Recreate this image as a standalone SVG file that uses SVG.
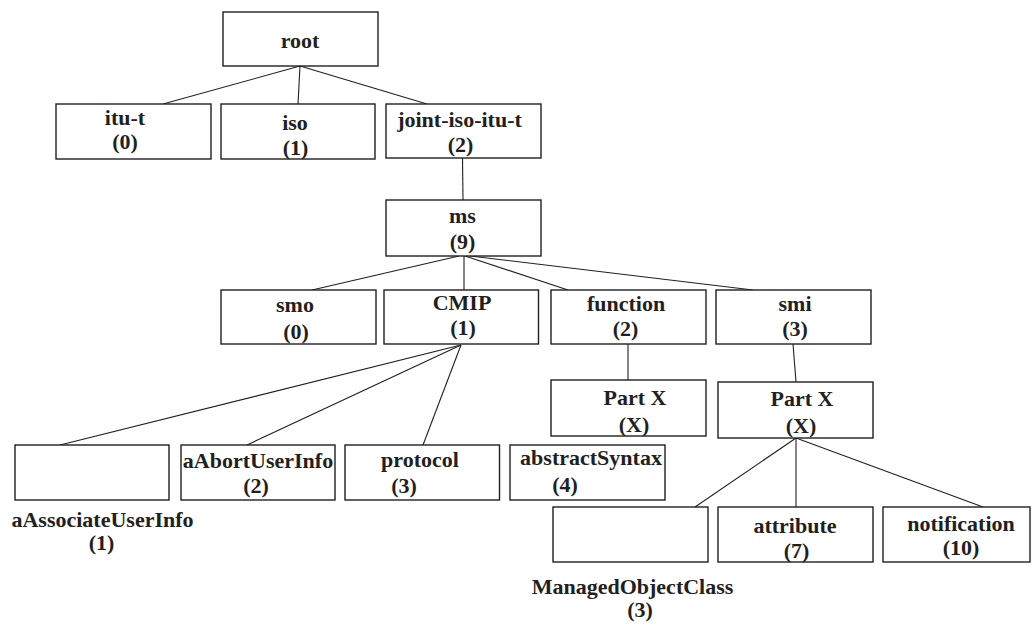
<svg xmlns="http://www.w3.org/2000/svg" width="1033" height="626" viewBox="0 0 1033 626">
  <style>
    .box { fill: #ffffff; stroke: #231f20; stroke-width: 1.4; }
    .edge { fill: none; stroke: #231f20; stroke-width: 1.1; }
    text { font-family: "Liberation Serif", "Times New Roman", serif; font-weight: bold; font-size: 22px; fill: #231f20; text-anchor: middle; }
  </style>
  <rect width="1033" height="626" fill="#ffffff"/>

  <!-- connectors -->
  <g id="connectors">
    <line class="edge" x1="300" y1="66" x2="163" y2="104"/>
    <line class="edge" x1="300" y1="66" x2="298" y2="104"/>
    <line class="edge" x1="300" y1="66" x2="427" y2="104"/>
    <line class="edge" x1="462.5" y1="158" x2="463" y2="200"/>
    <line class="edge" x1="459" y1="256" x2="312" y2="290"/>
    <line class="edge" x1="464" y1="256" x2="464" y2="290"/>
    <line class="edge" x1="465" y1="256" x2="568" y2="290"/>
    <line class="edge" x1="470" y1="256" x2="753" y2="290"/>
    <line class="edge" x1="461" y1="345" x2="60" y2="445"/>
    <line class="edge" x1="461" y1="345" x2="247" y2="445"/>
    <line class="edge" x1="461" y1="345" x2="423" y2="445"/>
    <line class="edge" x1="628" y1="344" x2="628" y2="380"/>
    <line class="edge" x1="793" y1="344" x2="796" y2="382"/>
    <line class="edge" x1="796" y1="438" x2="695" y2="507"/>
    <line class="edge" x1="796" y1="438" x2="796" y2="507"/>
    <line class="edge" x1="796" y1="438" x2="983" y2="507"/>
  </g>

  <!-- level 0 -->
  <g id="root">
    <rect class="box" x="223" y="12" width="155" height="54"/>
    <text x="300" y="47.5">root</text>
  </g>

  <!-- level 1 -->
  <g id="itu-t">
    <rect class="box" x="56" y="104" width="155" height="55"/>
    <text x="125" y="124.5">itu-t</text>
    <text x="125" y="149">(0)</text>
  </g>
  <g id="iso">
    <rect class="box" x="221" y="104" width="154" height="55"/>
    <text x="295" y="129.5">iso</text>
    <text x="295.5" y="154.5">(1)</text>
  </g>
  <g id="joint-iso-itu-t">
    <rect class="box" x="386" y="104" width="155" height="54"/>
    <text x="459.5" y="127">joint-iso-itu-t</text>
    <text x="460.5" y="152">(2)</text>
  </g>

  <!-- level 2 -->
  <g id="ms">
    <rect class="box" x="386" y="200" width="155" height="56"/>
    <text x="462.5" y="223">ms</text>
    <text x="462.5" y="249">(9)</text>
  </g>

  <!-- level 3 -->
  <g id="smo">
    <rect class="box" x="221" y="290" width="155" height="54"/>
    <text x="295" y="311.5">smo</text>
    <text x="296" y="339">(0)</text>
  </g>
  <g id="cmip">
    <rect class="box" x="384" y="290" width="154.5" height="54"/>
    <text x="462" y="309.5">CMIP</text>
    <text x="463" y="335">(1)</text>
  </g>
  <g id="function">
    <rect class="box" x="551" y="290" width="155" height="54"/>
    <text x="626" y="310.5">function</text>
    <text x="625.5" y="336">(2)</text>
  </g>
  <g id="smi">
    <rect class="box" x="716" y="290" width="155" height="54"/>
    <text x="795" y="310.5">smi</text>
    <text x="795" y="336">(3)</text>
  </g>

  <!-- level 4 -->
  <g id="function-part-x">
    <rect class="box" x="551" y="380" width="155" height="56"/>
    <text x="635" y="405">Part X</text>
    <text x="634" y="431.5">(X)</text>
  </g>
  <g id="smi-part-x">
    <rect class="box" x="718" y="382" width="155" height="56"/>
    <text x="802" y="406">Part X</text>
    <text x="801" y="433">(X)</text>
  </g>

  <!-- CMIP children -->
  <g id="aAssociateUserInfo">
    <rect class="box" x="15" y="445" width="154" height="55"/>
    <text x="102.5" y="527">aAssociateUserInfo</text>
    <text x="101.5" y="550">(1)</text>
  </g>
  <g id="aAbortUserInfo">
    <rect class="box" x="181" y="445" width="154" height="55"/>
    <text x="258" y="468">aAbortUserInfo</text>
    <text x="256" y="493">(2)</text>
  </g>
  <g id="protocol">
    <rect class="box" x="345" y="445" width="154.5" height="55"/>
    <text x="420" y="466.5">protocol</text>
    <text x="404" y="493">(3)</text>
  </g>
  <g id="abstractSyntax">
    <rect class="box" x="510" y="445" width="155" height="55"/>
    <text x="591" y="465">abstractSyntax</text>
    <text x="565" y="491.5">(4)</text>
  </g>

  <!-- smi Part X children -->
  <g id="ManagedObjectClass">
    <rect class="box" x="553" y="507" width="155" height="55"/>
    <text x="632.5" y="594">ManagedObjectClass</text>
    <text x="640" y="617">(3)</text>
  </g>
  <g id="attribute">
    <rect class="box" x="718" y="507" width="155" height="55"/>
    <text x="795" y="533">attribute</text>
    <text x="796.5" y="558">(7)</text>
  </g>
  <g id="notification">
    <rect class="box" x="883" y="507" width="147" height="55"/>
    <text x="961" y="530.5">notification</text>
    <text x="961" y="555">(10)</text>
  </g>
</svg>
